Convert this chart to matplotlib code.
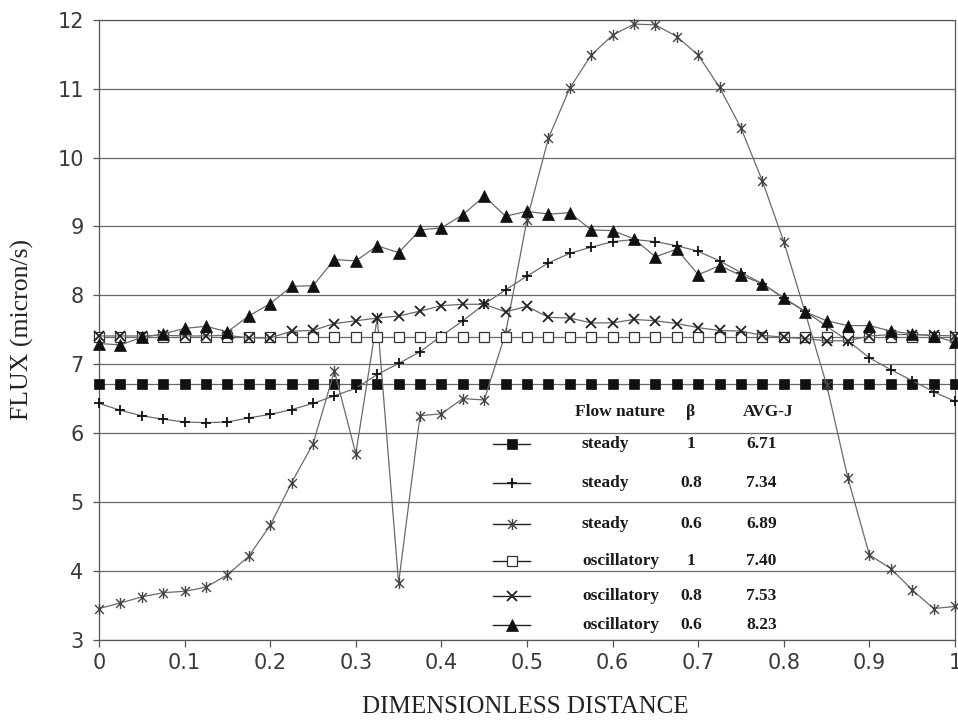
import numpy as np
import matplotlib
matplotlib.use("Agg")
import matplotlib.pyplot as plt
from matplotlib.path import Path

# ---- data -------------------------------------------------------------
distance = [i / 40 for i in range(41)]

steady_b10 = [6.71] * 41
steady_b08 = [6.43, 6.33, 6.25, 6.20, 6.16, 6.15, 6.16, 6.22, 6.27, 6.34,
              6.43, 6.54, 6.65, 6.85, 7.01, 7.18, 7.41, 7.63, 7.87, 8.08,
              8.28, 8.47, 8.61, 8.70, 8.78, 8.81, 8.78, 8.72, 8.64, 8.50,
              8.33, 8.17, 7.96, 7.77, 7.55, 7.34, 7.09, 6.92, 6.76, 6.60,
              6.46]
steady_b06 = [3.45, 3.53, 3.62, 3.68, 3.70, 3.76, 3.94, 4.21, 4.66, 5.28,
              5.84, 6.90, 5.70, 7.67, 3.82, 6.25, 6.28, 6.50, 6.48, 7.45,
              9.10, 10.28, 11.01, 11.49, 11.78, 11.94, 11.93, 11.76, 11.49, 11.02,
              10.43, 9.66, 8.78, 7.75, 6.70, 5.34, 4.23, 4.03, 3.72, 3.45,
              3.48]
osc_b10 = [7.40] * 41
osc_b08 = [7.41, 7.41, 7.41, 7.42, 7.41, 7.41, 7.42, 7.38, 7.38, 7.48,
           7.49, 7.59, 7.63, 7.67, 7.70, 7.77, 7.85, 7.87, 7.87, 7.76,
           7.84, 7.68, 7.67, 7.60, 7.60, 7.65, 7.63, 7.59, 7.53, 7.49,
           7.48, 7.42, 7.39, 7.37, 7.34, 7.34, 7.41, 7.43, 7.43, 7.42,
           7.41]
osc_b06 = [7.30, 7.28, 7.39, 7.44, 7.52, 7.55, 7.47, 7.70, 7.88, 8.13,
           8.14, 8.52, 8.50, 8.72, 8.62, 8.95, 8.98, 9.17, 9.44, 9.15,
           9.22, 9.18, 9.20, 8.95, 8.94, 8.82, 8.56, 8.67, 8.30, 8.43,
           8.29, 8.17, 7.96, 7.76, 7.63, 7.56, 7.56, 7.48, 7.44, 7.41,
           7.32]

flow_nature = ["steady", "steady", "steady", "oscillatory", "oscillatory", "oscillatory"]
beta_text = ["1", "0.8", "0.6", "1", "0.8", "0.6"]
avg_j_text = ["6.71", "7.34", "6.89", "7.40", "7.53", "8.23"]

x_ticks = [0, 0.1, 0.2, 0.3, 0.4, 0.5, 0.6, 0.7, 0.8, 0.9, 1]
x_tick_labels = ["0", "0.1", "0.2", "0.3", "0.4", "0.5", "0.6", "0.7", "0.8", "0.9", "1"]
y_ticks = [3, 4, 5, 6, 7, 8, 9, 10, 11, 12]

# ---- styles -----------------------------------------------------------
# asterisk: an x with a vertical bar through it
star_path = Path([(0, -1), (0, 1), (-0.8, -0.8), (0.8, 0.8), (-0.8, 0.8), (0.8, -0.8)],
                 [Path.MOVETO, Path.LINETO, Path.MOVETO, Path.LINETO, Path.MOVETO, Path.LINETO])

LINE_C = "#6a6a6a"
styles = [
    dict(marker="s", ms=7.5, mfc="#111111", mec="#111111", mew=0.5),
    dict(marker="+", ms=7, mfc="none", mec="#111111", mew=1.3),
    dict(marker=star_path, ms=8, mfc="none", mec="#444444", mew=1.0),
    dict(marker="s", ms=7, mfc="white", mec="#333333", mew=0.9),
    dict(marker="x", ms=7.5, mfc="none", mec="#222222", mew=1.3),
    dict(marker="^", ms=8, mfc="#111111", mec="#111111", mew=0.5),
]
series = [steady_b10, steady_b08, steady_b06, osc_b10, osc_b08, osc_b06]

fig = plt.figure(figsize=(9.58, 7.2), dpi=100)
ax = fig.add_axes([99 / 958, 1 - 639.5 / 720, 856 / 958, 619.5 / 720])

ax.set_xlim(0, 1)
ax.set_ylim(3, 12)
ax.set_yticks(y_ticks)
ax.set_xticks(x_ticks)
ax.set_xticklabels(x_tick_labels)
for yv in y_ticks:
    ax.axhline(yv, color="#6a6a6a", lw=0.9, zorder=1)

draw_order = [2, 3, 4, 1, 5, 0]
for i in draw_order:
    ax.plot(distance, series[i], color=LINE_C, lw=0.9, linestyle="-",
            zorder=3 + i, clip_on=False, **styles[i])

for side in ["left", "bottom", "right", "top"]:
    ax.spines[side].set_color("#555555")
    ax.spines[side].set_linewidth(0.9)

ax.tick_params(axis="x", direction="out", length=5, width=0.9, color="#555555",
               pad=5, labelcolor="#3a3a3a")
ax.tick_params(axis="y", direction="out", length=4, width=0.9, color="#555555",
               pad=7, labelcolor="#3a3a3a")
for lab in ax.get_xticklabels() + ax.get_yticklabels():
    lab.set_fontfamily(["DejaVu Sans"])
    lab.set_fontsize(15)

serif = ["Liberation Serif", "DejaVu Serif"]
fig.text(525 / 958, 1 - 707 / 720, "DIMENSIONLESS DISTANCE", family=serif,
         size=18, ha="center", va="center", color="#222222")
fig.text(22 / 958, 1 - 330 / 720, "FLUX (micron/s)", family=serif,
         size=18.5, ha="center", va="center", rotation=90, color="#222222")

# ---- key table --------------------------------------------------------
def ax_y(py):
    return (639.5 - py) / 619.5


def ax_x(px):
    return (px - 99) / 856


key_font = dict(family=serif, size=12.5, weight="bold", color="#1a1a1a")
head_y = ax_y(412)
ax.text(ax_x(575), head_y, "Flow nature", transform=ax.transAxes, ha="left", va="center", **key_font)
ax.text(ax_x(691), head_y, "β", transform=ax.transAxes, ha="center", va="center", **key_font)
ax.text(ax_x(743), head_y, "AVG-J", transform=ax.transAxes, ha="left", va="center", **key_font)

row_py = [444, 483, 524, 561, 596, 625]
for i, py in enumerate(row_py):
    yy = ax_y(py)
    ax.plot([ax_x(493), ax_x(530)], [yy, yy], transform=ax.transAxes, color="#222222",
            lw=1.0, zorder=10, clip_on=False)
    ax.plot([ax_x(511.5)], [yy], transform=ax.transAxes, linestyle="none", zorder=11,
            clip_on=False, **styles[i])
    ax.text(ax_x(582), yy, flow_nature[i], transform=ax.transAxes, ha="left", va="center", **key_font)
    ax.text(ax_x(691), yy, beta_text[i], transform=ax.transAxes, ha="center", va="center", **key_font)
    ax.text(ax_x(746), yy, avg_j_text[i], transform=ax.transAxes, ha="left", va="center", **key_font)

fig.savefig("out.png", dpi=100, facecolor="white")
